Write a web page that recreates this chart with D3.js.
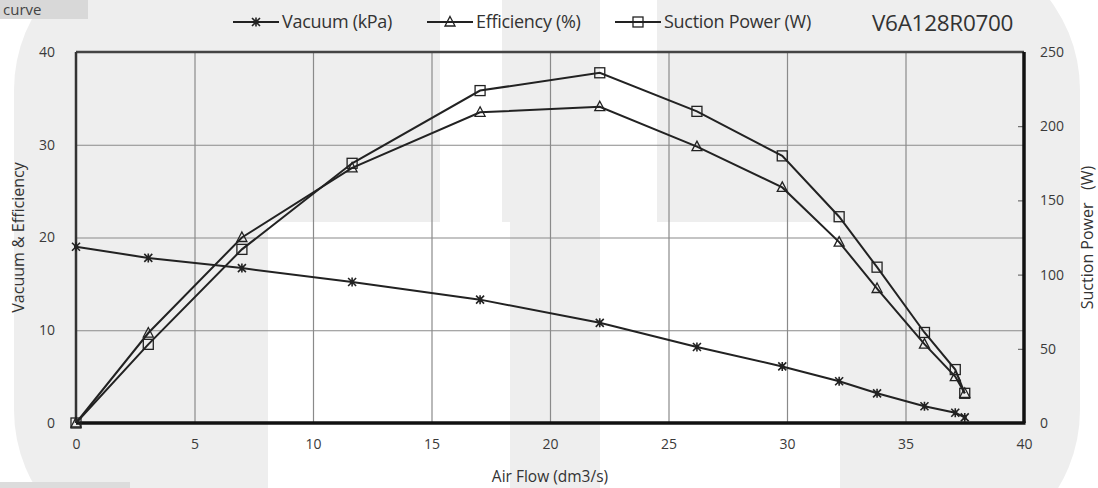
<!DOCTYPE html>
<html>
<head>
<meta charset="utf-8">
<script src="https://cdn.jsdelivr.net/npm/d3@7"></script>
<style>
  body { margin:0; background:#fff; }
  svg text { font-family: "Open Sans", "Noto Sans", sans-serif; fill:#333; }
</style>
</head>
<body>
<div id="chart"></div>
<script>
// air flow points shared by all three curves (dm3/s)
const airFlow    = [0, 3.05, 7.0, 11.65, 17.05, 22.1, 26.2, 29.8, 32.2, 33.8, 35.8, 37.1, 37.5];
const vacuum     = [19.0, 17.8, 16.7, 15.2, 13.3, 10.8, 8.2, 6.1, 4.5, 3.2, 1.8, 1.1, 0.6];
const efficiency = [0, 9.7, 20.0, 27.5, 33.5, 34.1, 29.8, 25.4, 19.5, 14.5, 8.5, 5.0, 3.2];
const power      = [0, 53, 117, 175, 224, 236, 210, 180, 139, 105, 61, 36, 20];

const xTicks      = [0, 5, 10, 15, 20, 25, 30, 35, 40];
const leftTicks   = [0, 10, 20, 30, 40];
const rightTicks  = [0, 50, 100, 150, 200, 250];
const seriesNames = ["Vacuum (kPa)", "Efficiency (%)", "Suction Power (W)"];
const modelName   = "V6A128R0700";

const W = 1098, H = 488;
const m = { top:52, right:74, bottom:65, left:76 };
const iw = W - m.left - m.right, ih = H - m.top - m.bottom;

const svg = d3.select("#chart").append("svg").attr("width", W).attr("height", H);

// faded watermark behind everything (rough shapes)
const bg = svg.append("g");
bg.append("rect").attr("x",14).attr("y",-60).attr("width",1066).attr("height",620).attr("rx",150).attr("fill","#eeeeee");
[[440,0,62,222],[600,0,57,222],[268,222,242,266],[600,222,240,266],[800,237,40,30]].forEach(r=>{
  bg.append("rect").attr("x",r[0]).attr("y",r[1]).attr("width",r[2]).attr("height",r[3]).attr("fill","#ffffff");
});

// leftover bits of the page around the chart
svg.append("rect").attr("x",0).attr("y",0).attr("width",88).attr("height",19).attr("fill","#d8d8d8");
svg.append("text").attr("x",3).attr("y",15).attr("font-size",15).style("fill","#444").text("curve");
svg.append("rect").attr("x",0).attr("y",482).attr("width",130).attr("height",6).attr("fill","#dcdcdc");

const g = svg.append("g").attr("transform", `translate(${m.left},${m.top})`);

const x  = d3.scaleLinear().domain([0, 40]).range([0, iw]);
const yL = d3.scaleLinear().domain([0, 40]).range([ih, 0]);
const yR = d3.scaleLinear().domain([0, 250]).range([ih, 0]);

// grid
g.append("g").attr("class","grid")
  .call(d3.axisBottom(x).tickValues(xTicks.slice(1, -1)).tickSize(ih).tickFormat(""))
  .call(s => s.select(".domain").remove())
  .selectAll("line").attr("stroke","#8a8a8a").attr("stroke-width",1.2);
g.append("g").attr("class","grid")
  .call(d3.axisLeft(yL).tickValues(leftTicks.slice(1, -1)).tickSize(-iw).tickFormat(""))
  .call(s => s.select(".domain").remove())
  .selectAll("line").attr("stroke","#8a8a8a").attr("stroke-width",1.2);

// tick labels
const gx = g.append("g").attr("transform", `translate(0,${ih})`)
  .call(d3.axisBottom(x).tickValues(xTicks).tickSize(0).tickPadding(16));
const gyl = g.append("g").call(d3.axisLeft(yL).tickValues(leftTicks).tickSize(0).tickPadding(21));
const gyr = g.append("g").attr("transform", `translate(${iw},0)`)
  .call(d3.axisRight(yR).tickValues(rightTicks).tickSize(-6).tickPadding(16));
[gx, gyl, gyr].forEach(a => {
  a.select(".domain").remove();
  a.selectAll("text").attr("font-size",14).style("fill","#3a3a3a");
});
gyr.selectAll("line").attr("stroke","#555");

// frame (thicker on bottom/right like the original)
g.append("line").attr("x1",0).attr("x2",iw).attr("y1",0).attr("y2",0).attr("stroke","#444").attr("stroke-width",2.5);
g.append("line").attr("x1",0).attr("x2",0).attr("y1",0).attr("y2",ih).attr("stroke","#333").attr("stroke-width",2.5);
g.append("line").attr("x1",0).attr("x2",iw+1.5).attr("y1",ih).attr("y2",ih).attr("stroke","#111").attr("stroke-width",3.5);
g.append("line").attr("x1",iw).attr("x2",iw).attr("y1",0).attr("y2",ih).attr("stroke","#111").attr("stroke-width",3.5);

// axis titles
g.append("text").attr("x", iw/2).attr("y", ih+59).attr("text-anchor","middle").attr("font-size",15.5).text("Air Flow (dm3/s)");
g.append("text").attr("transform","rotate(-90)").attr("x",-ih/2).attr("y",-52).attr("text-anchor","middle")
  .attr("font-size",16).text("Vacuum & Efficiency");
g.append("text").attr("transform","rotate(-90)").attr("x",-ih/2).attr("y",iw+69).attr("text-anchor","middle")
  .attr("font-size",16).attr("xml:space","preserve").text("Suction Power   (W)");

// curves
const lineCol = "#222";
const series = [
  { name: seriesNames[0], vals: vacuum,     y: yL, mark: "x" },
  { name: seriesNames[1], vals: efficiency, y: yL, mark: "tri" },
  { name: seriesNames[2], vals: power,      y: yR, mark: "sq" }
];

function drawMark(sel, type) {
  if (type === "x") {
    sel.append("path").attr("d","M-4,-4L4,4M4,-4L-4,4M0,-4.5L0,4.5").attr("stroke",lineCol).attr("stroke-width",1.6).attr("fill","none");
    sel.append("rect").attr("x",-2).attr("y",-2).attr("width",4).attr("height",4).attr("fill",lineCol);
  } else if (type === "tri") {
    sel.append("path").attr("d","M0,-5.5L5,4L-5,4Z").attr("fill","none").attr("stroke",lineCol).attr("stroke-width",1.3);
  } else {
    sel.append("rect").attr("x",-5).attr("y",-5).attr("width",10).attr("height",10)
      .attr("fill","none").attr("stroke",lineCol).attr("stroke-width",1.3);
  }
}

series.forEach(s => {
  const pts = airFlow.map((a, i) => [a, s.vals[i]]);
  const line = d3.line().x(d => x(d[0])).y(d => s.y(d[1]));
  g.append("path").datum(pts).attr("d", line).attr("fill","none").attr("stroke",lineCol).attr("stroke-width",2);
  g.selectAll(null).data(pts).enter().append("g")
    .attr("transform", d => `translate(${x(d[0])},${s.y(d[1])})`)
    .each(function(){ drawMark(d3.select(this), s.mark); });
});

// legend along the top
const legX = [233, 427, 615];
series.forEach((s, i) => {
  const lg = svg.append("g").attr("transform", `translate(${legX[i]},22)`);
  lg.append("line").attr("x1",0).attr("x2",46).attr("y1",0).attr("y2",0).attr("stroke",lineCol).attr("stroke-width",2);
  drawMark(lg.append("g").attr("transform","translate(23,0)"), s.mark);
  lg.append("text").attr("x",49).attr("y",6).attr("font-size",18).attr("letter-spacing",-0.3).style("fill","#333").text(s.name);
});
svg.append("text").attr("x",872).attr("y",31).attr("font-size",22.5).attr("letter-spacing",-0.3).style("fill","#333").text(modelName);
</script>
</body>
</html>
